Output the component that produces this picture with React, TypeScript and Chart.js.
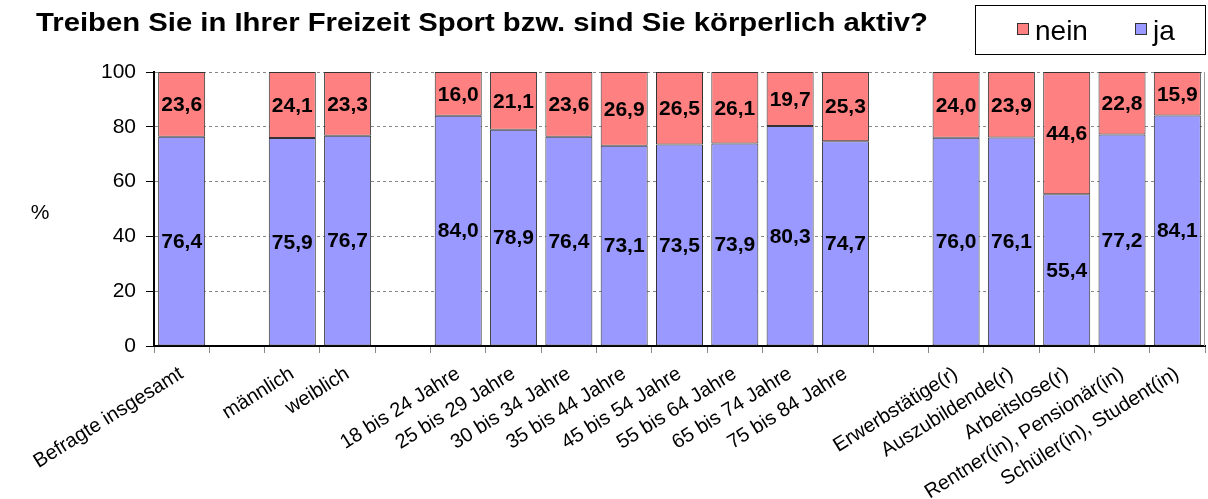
import React, { useEffect, useRef } from "react";
import { Chart, registerables } from "chart.js";

Chart.register(...registerables);

const categories: string[] = [
  "Befragte insgesamt",
  "",
  "männlich",
  "weiblich",
  "",
  "18 bis 24 Jahre",
  "25 bis 29 Jahre",
  "30 bis 34 Jahre",
  "35 bis 44 Jahre",
  "45 bis 54 Jahre",
  "55 bis 64 Jahre",
  "65 bis 74 Jahre",
  "75 bis 84 Jahre",
  "",
  "Erwerbstätige(r)",
  "Auszubildende(r)",
  "Arbeitslose(r)",
  "Rentner(in), Pensionär(in)",
  "Schüler(in), Student(in)",
];

const jaValues: (number | null)[] = [
  76.4, null, 75.9, 76.7, null, 84.0, 78.9, 76.4, 73.1, 73.5, 73.9, 80.3, 74.7, null, 76.0, 76.1, 55.4, 77.2, 84.1,
];

const neinValues: (number | null)[] = [
  23.6, null, 24.1, 23.3, null, 16.0, 21.1, 23.6, 26.9, 26.5, 26.1, 19.7, 25.3, null, 24.0, 23.9, 44.6, 22.8, 15.9,
];

const yTicks: number[] = [0, 20, 40, 60, 80, 100];

const titleText = "Treiben Sie in Ihrer Freizeit Sport bzw. sind Sie körperlich aktiv?";
const yAxisTitle = "%";
const legendNein = "nein";
const legendJa = "ja";

const RED = "#FF8080";
const BLUE = "#9999FF";
const FONT = "Arial, 'Liberation Sans', sans-serif";

const fmt = (v: number) => v.toFixed(1).replace(".", ",");

const labelPlugin = {
  id: "valueLabels",
  afterDatasetsDraw(chart: any) {
    const ctx = chart.ctx;
    ctx.save();
    ctx.font = `bold 21px ${FONT}`;
    ctx.fillStyle = "#000";
    ctx.textAlign = "center";
    ctx.textBaseline = "middle";
    chart.data.datasets.forEach((ds: any, di: number) => {
      const meta = chart.getDatasetMeta(di);
      meta.data.forEach((el: any, i: number) => {
        const v = ds.data[i];
        if (v == null) return;
        const props = el.getProps(["x", "y", "base"], true);
        ctx.fillText(fmt(v), props.x, (props.y + props.base) / 2 + 1);
      });
    });
    ctx.restore();
  },
};

const decorPlugin = {
  id: "decor",
  afterDraw(chart: any) {
    const ctx = chart.ctx;
    const area = chart.chartArea;
    ctx.save();
    // right border of plot
    ctx.strokeStyle = "#999";
    ctx.lineWidth = 1;
    ctx.beginPath();
    ctx.moveTo(area.right - 0.5, area.top);
    ctx.lineTo(area.right - 0.5, area.bottom);
    ctx.stroke();

    // title
    ctx.font = `bold 26px ${FONT}`;
    ctx.fillStyle = "#000";
    ctx.textAlign = "left";
    ctx.textBaseline = "alphabetic";
    const tw = ctx.measureText(titleText).width;
    const targetW = 892;
    ctx.save();
    ctx.translate(36, 31);
    ctx.scale(targetW / tw, 1);
    ctx.fillText(titleText, 0, 0);
    ctx.restore();

    // y axis title
    ctx.font = `21px ${FONT}`;
    ctx.textAlign = "center";
    ctx.textBaseline = "middle";
    ctx.fillText(yAxisTitle, 40, 213);

    // legend box
    ctx.strokeStyle = "#000";
    ctx.lineWidth = 1;
    ctx.strokeRect(975.5, 5.5, 230, 49);
    const items = [
      { text: legendNein, color: RED, x: 1017 },
      { text: legendJa, color: BLUE, x: 1135 },
    ];
    ctx.font = `28px ${FONT}`;
    ctx.textAlign = "left";
    ctx.textBaseline = "alphabetic";
    items.forEach((it) => {
      ctx.fillStyle = it.color;
      ctx.fillRect(it.x, 23, 12, 12);
      ctx.strokeStyle = "#333";
      ctx.strokeRect(it.x + 0.5, 23.5, 11, 11);
      ctx.fillStyle = "#000";
      ctx.fillText(it.text, it.x + 18, 40);
    });
    ctx.restore();
  },
};

export default function App() {
  const ref = useRef<HTMLCanvasElement | null>(null);
  useEffect(() => {
    document.body.style.margin = "0";
    const canvas = ref.current;
    if (!canvas) return;
    const chart = new Chart(canvas, {
      type: "bar",
      data: {
        labels: categories,
        datasets: [
          {
            label: legendJa,
            data: jaValues as any,
            backgroundColor: BLUE,
            borderColor: "#333",
            borderWidth: 1,
            borderSkipped: false,
            categoryPercentage: 1,
            barPercentage: 0.85,
          },
          {
            label: legendNein,
            data: neinValues as any,
            backgroundColor: RED,
            borderColor: "#333",
            borderWidth: 1,
            borderSkipped: false,
            categoryPercentage: 1,
            barPercentage: 0.85,
          },
        ],
      },
      options: {
        responsive: false,
        animation: false,
        devicePixelRatio: 1,
        layout: { padding: { top: 72, right: 3, left: 0, bottom: 0 } },
        plugins: {
          legend: { display: false },
          title: { display: false },
          tooltip: { enabled: false },
        },
        scales: {
          x: {
            stacked: true,
            offset: true,
            grid: {
              drawOnChartArea: false,
              drawTicks: true,
              tickLength: 7,
              tickColor: "#888",
              offset: true,
            },
            border: { color: "#000", width: 2 },
            ticks: {
              autoSkip: false,
              minRotation: 32,
              maxRotation: 32,
              color: "#000",
              font: { size: 20, family: FONT },
              padding: 9,
            },
            afterFit(scale: any) {
              scale.height = 153;
            },
          },
          y: {
            stacked: true,
            min: 0,
            max: 100,
            afterBuildTicks(scale: any) {
              scale.ticks = yTicks.map((v) => ({ value: v }));
            },
            grid: {
              color: "#888",
              tickColor: "#000",
              tickLength: 8,
              lineWidth: 1,
            },
            border: { color: "#000", width: 2, dash: [3, 3] },
            ticks: {
              color: "#000",
              font: { size: 21, family: FONT },
              padding: 10,
            },
            afterFit(scale: any) {
              scale.width = 154;
            },
          },
        },
      },
      plugins: [labelPlugin, decorPlugin],
    });
    return () => chart.destroy();
  }, []);
  return (
    <div style={{ width: 1208, height: 499, background: "#fff" }}>
      <canvas ref={ref} width={1208} height={499} style={{ display: "block" }} />
    </div>
  );
}
